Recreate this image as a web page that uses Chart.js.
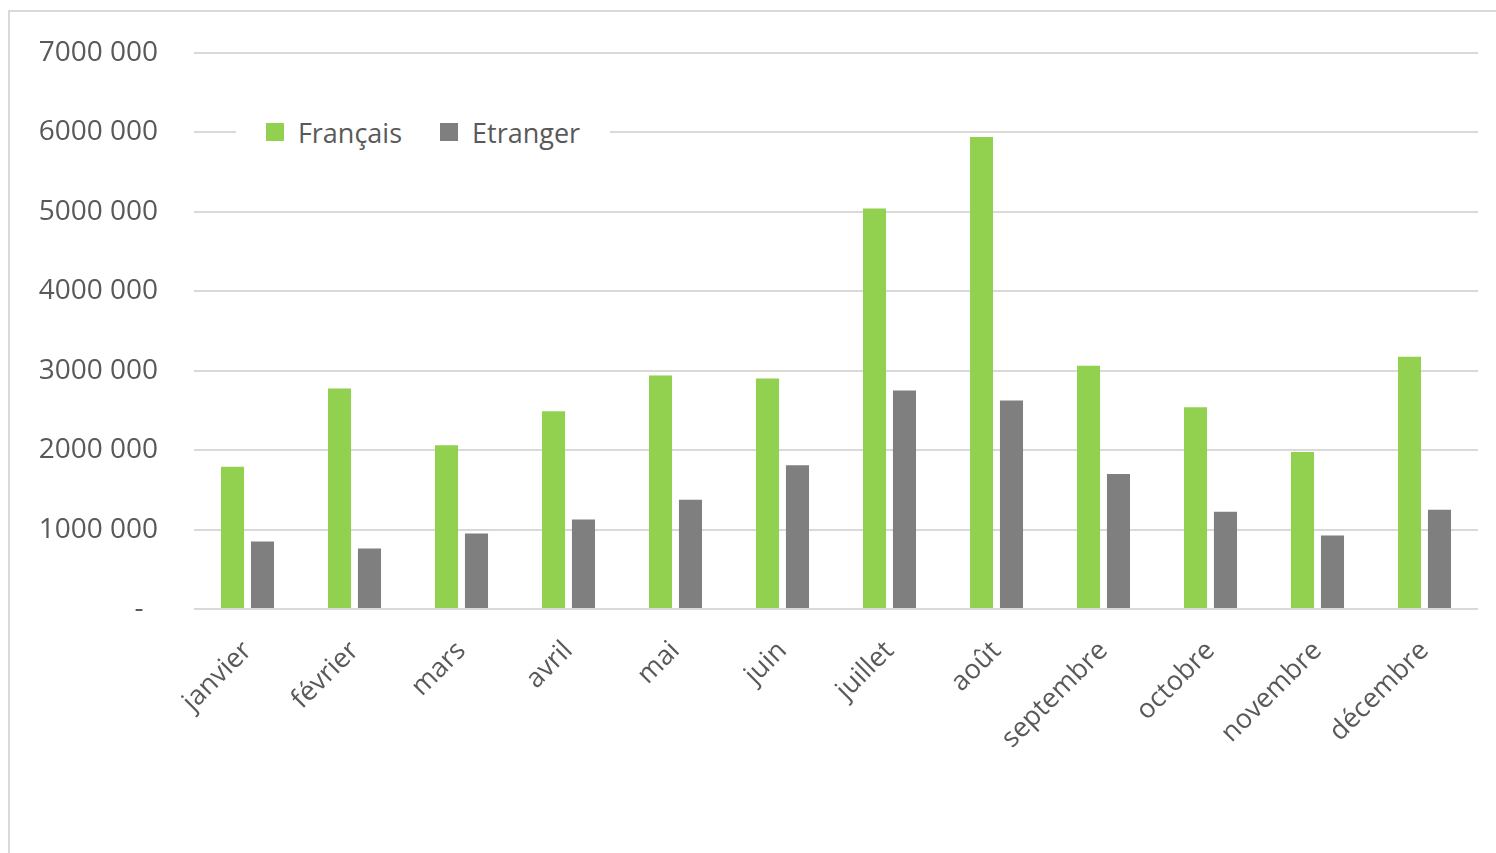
<!DOCTYPE html>
<html lang="fr">
<head>
<meta charset="utf-8">
<title>Français / Etranger par mois</title>
<script src="https://cdn.jsdelivr.net/npm/chart.js"></script>
<style>
    html, body { margin: 0; padding: 0; background: #fff; overflow: hidden; }
    #wrap { position: relative; width: 1496px; height: 853px; }
    #frame {
        position: absolute; left: 8px; top: 10px; width: 1600px; height: 900px;
        border-left: 2px solid #d9d9d9; border-top: 2px solid #d9d9d9;
        pointer-events: none;
    }
    #chart { position: absolute; left: 0; top: 0; }
    #legend {
        position: absolute; left: 236px; top: 110px; width: 374px; height: 44px;
        background: #fff; display: flex; align-items: center; justify-content: center;
        font-family: "Open Sans", sans-serif; font-size: 27px; color: #595959;
    }
    #legend span.item { display: flex; align-items: center; margin: 0 19px; }
    #legend span.box { width: 18px; height: 18px; margin-right: 14px; display: inline-block; }
</style>
</head>
<body>
<div id="wrap">
    <canvas id="chart" width="1496" height="853"></canvas>
    <div id="frame"></div>
    <div id="legend"></div>
</div>
<script>
const months = ["janvier", "février", "mars", "avril", "mai", "juin",
    "juillet", "août", "septembre", "octobre", "novembre", "décembre"];

const francais = [1790000, 2775000, 2060000, 2490000, 2940000, 2900000,
    5040000, 5940000, 3060000, 2540000, 1975000, 3175000];

const etranger = [850000, 760000, 950000, 1125000, 1375000, 1810000,
    2750000, 2625000, 1700000, 1225000, 925000, 1250000];

// zero is shown as a dash with some trailing room, like excel's accounting format
const yTickLabels = ["-  ", "1000 000", "2000 000", "3000 000", "4000 000",
    "5000 000", "6000 000", "7000 000"];

const GREEN = "#92d050";
const GREY = "#7f7f7f";
const TEXT = "#595959";

const datasets = [
    { label: "Français", data: francais, backgroundColor: GREEN },
    { label: "Etranger", data: etranger, backgroundColor: GREY }
];

// legend sits on top of the plot like in the original, so build it in html
const legend = document.getElementById("legend");
datasets.forEach(ds => {
    const item = document.createElement("span");
    item.className = "item";
    item.innerHTML = `<span class="box" style="background:${ds.backgroundColor}"></span>${ds.label}`;
    legend.appendChild(item);
});

new Chart(document.getElementById("chart").getContext("2d"), {
    type: "bar",
    data: {
        labels: months,
        datasets: datasets.map(ds => ({
            ...ds,
            barPercentage: 0.77,
            categoryPercentage: 0.56
        }))
    },
    options: {
        responsive: false,
        animation: false,
        layout: { padding: { top: 49, right: 18, left: 0, bottom: 0 } },
        plugins: {
            legend: { display: false },
            tooltip: { enabled: false }
        },
        scales: {
            x: {
                grid: { display: false },
                border: { display: false },
                offset: true,
                ticks: {
                    color: TEXT,
                    font: { family: "Open Sans", size: 27 },
                    maxRotation: 45,
                    minRotation: 45,
                    padding: 18
                },
                afterFit(scale) { scale.height = 244; }
            },
            y: {
                min: 0,
                max: 7000000,
                grid: { color: "#d9d9d9", lineWidth: 2, drawTicks: false },
                border: { display: false },
                ticks: {
                    stepSize: 1000000,
                    color: TEXT,
                    font: { family: "Open Sans", size: 28 },
                    padding: 36,
                    callback: (value, index) => yTickLabels[index]
                },
                afterFit(scale) { scale.width = 194; }
            }
        }
    }
});
</script>
</body>
</html>
